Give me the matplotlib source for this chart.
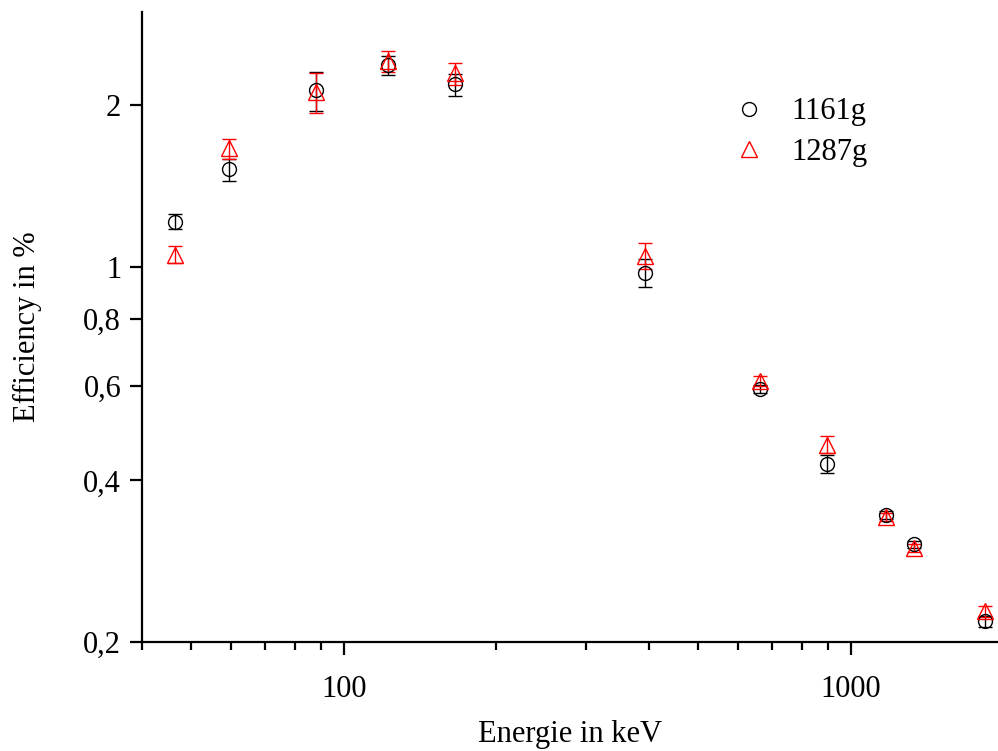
import matplotlib.pyplot as plt
from matplotlib.ticker import FixedLocator, FixedFormatter, NullFormatter

plt.rcParams['font.family'] = ['Liberation Serif', 'DejaVu Serif']

energy = [46.5, 59.5, 88, 122, 166, 392, 662, 898, 1173, 1332, 1836]

eff_1161 = [1.213, 1.517, 2.130, 2.371, 2.186, 0.975, 0.592, 0.429, 0.3445, 0.304, 0.2186]
err_1161 = [0.039, 0.072, 0.179, 0.092, 0.103, 0.059, 0.010, 0.017, 0.006, 0.005, 0.005]

eff_1287 = [1.053, 1.660, 2.112, 2.413, 2.291, 1.048, 0.613, 0.466, 0.3417, 0.299, 0.228]
err_1287 = [0.038, 0.071, 0.180, 0.104, 0.108, 0.059, 0.013, 0.017, 0.006, 0.005, 0.005]

x_ticks = [100, 1000]
x_labels = ["100", "1000"]
y_ticks = [0.2, 0.4, 0.6, 0.8, 1, 2]
y_labels = ["0,2", "0,4", "0,6", "0,8", "1", "2"]

fig = plt.figure(figsize=(9.98, 7.51), dpi=100)
ax = fig.add_axes([0.1423, 0.1451, 0.8577, 0.8389])

eb1 = ax.errorbar(energy, eff_1161, yerr=err_1161, fmt='o', mfc='none', mec='black',
                  ms=10, mew=1.0, ecolor='black', elinewidth=1.0, capsize=5, capthick=1.0)
eb2 = ax.errorbar(energy, eff_1287, yerr=err_1287, fmt='^', mfc='none', mec='red',
                  ms=11, mew=1.0, ecolor='red', elinewidth=1.0, capsize=5, capthick=1.0)

ax.set_xscale('log')
ax.set_yscale('log')
ax.set_xlim(40, 1950)
ax.set_ylim(0.2, 2.98)

ax.xaxis.set_major_locator(FixedLocator(x_ticks))
ax.xaxis.set_major_formatter(FixedFormatter(x_labels))
ax.xaxis.set_minor_formatter(NullFormatter())
ax.yaxis.set_major_locator(FixedLocator(y_ticks))
ax.yaxis.set_major_formatter(FixedFormatter(y_labels))
ax.yaxis.set_minor_locator(FixedLocator([]))
ax.yaxis.set_minor_formatter(NullFormatter())

for s in ['top', 'right']:
    ax.spines[s].set_visible(False)
for s in ['left', 'bottom']:
    ax.spines[s].set_linewidth(1.6)

ax.tick_params(which='major', direction='out', length=9, width=1.6, labelsize=22)
ax.tick_params(which='minor', direction='out', length=6, width=1.6)
ax.tick_params(axis='x', which='major', pad=15)
ax.tick_params(axis='y', which='major', pad=6)

ax.set_xlabel("Energie in keV", fontsize=22, labelpad=11)
ax.set_ylabel("Efficiency in %", fontsize=22, labelpad=30)

ax.legend([eb1[0], eb2[0]], ["1161g", "1287g"], loc='upper left',
          bbox_to_anchor=(0.655, 0.908), frameon=False, fontsize=22,
          handlelength=1.2, handletextpad=0.8, labelspacing=0.38)

fig.savefig("out.png", dpi=100)
